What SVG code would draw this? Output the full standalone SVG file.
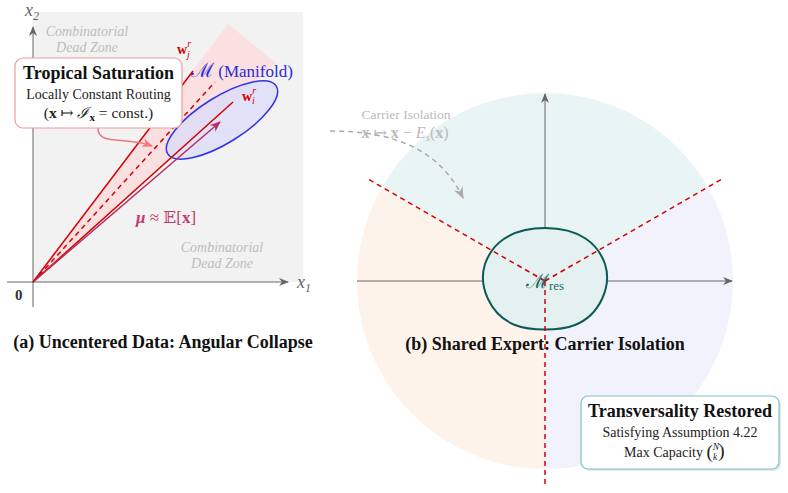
<svg xmlns="http://www.w3.org/2000/svg" width="788" height="493" viewBox="0 0 788 493">
<style>
.serif{font-family:"Liberation Serif","DejaVu Serif",serif}
.math{font-family:"DejaVu Serif","Liberation Serif",serif}
.dead{font-family:"Liberation Serif",serif;font-style:italic;font-size:14px;fill:#bdbdbd;text-anchor:middle}
.cap{font-family:"Liberation Serif",serif;font-weight:bold;font-size:18px;fill:#111;text-anchor:middle}
.axis{stroke:#666;stroke-width:1;fill:none}
.red{stroke:#d40000;stroke-width:1.5;fill:none}
.reddash{stroke:#d40000;stroke-width:1.5;fill:none;stroke-dasharray:5 4}
</style>
<defs>
<marker id="ag" viewBox="0 0 10 8" refX="9" refY="4" markerWidth="10" markerHeight="8" markerUnits="userSpaceOnUse" orient="auto"><path d="M0,0 L10,4 L0,8 L3,4 Z" fill="#666"/></marker>
<marker id="am" viewBox="0 0 10 8" refX="9" refY="4" markerWidth="11" markerHeight="9" markerUnits="userSpaceOnUse" orient="auto"><path d="M0,0 L10,4 L0,8 L3,4 Z" fill="#b52f66"/></marker>
<marker id="ap" viewBox="0 0 10 8" refX="9" refY="4" markerWidth="11" markerHeight="9" markerUnits="userSpaceOnUse" orient="auto"><path d="M0,0 L10,4 L0,8 L3,4 Z" fill="#f07878"/></marker>
<marker id="al" viewBox="0 0 10 8" refX="9" refY="4" markerWidth="12" markerHeight="10" markerUnits="userSpaceOnUse" orient="auto"><path d="M0,0 L10,4 L0,8 L3,4 Z" fill="#aaa"/></marker>
</defs>

<!-- Panel (a) -->
<g id="panel-a-background">
<rect x="33" y="12" width="270" height="270" fill="#f2f2f2"/>
<text class="dead" x="87" y="36">Combinatorial</text>
<text class="dead" x="87" y="52">Dead Zone</text>
<text class="dead" x="222" y="252">Combinatorial</text>
<text class="dead" x="222" y="268">Dead Zone</text>
</g>
<g id="axes-a">
<line class="axis" x1="33" y1="307" x2="33" y2="27" marker-end="url(#ag)"/>
<line class="axis" x1="7" y1="282" x2="288" y2="282" marker-end="url(#ag)"/>
<text class="serif" x="25" y="16" font-size="18" font-style="italic" fill="#666">x<tspan font-size="12" dy="4">2</tspan></text>
<text class="serif" x="297" y="288" font-size="18" font-style="italic" fill="#666">x<tspan font-size="12" dy="4">1</tspan></text>
<text class="serif" x="15" y="300" font-size="15" font-weight="bold" fill="#333">0</text>
</g>
<g id="cone">
<polygon points="33,282 228,24 276,63" fill="#fdd8d8" fill-opacity="0.7"/>
</g>
<g id="manifold">
<ellipse cx="222" cy="120" rx="64" ry="23" transform="rotate(-32 222 120)" fill="#dcdcf8" fill-opacity="0.8" stroke="#3333e6" stroke-width="1.5"/>
<text class="serif" x="191" y="77" font-size="17" fill="#2a2ad8"><tspan class="math" font-size="20">ℳ</tspan> (Manifold)</text>
</g>
<g id="connectors">
<line class="red" x1="33" y1="282" x2="193" y2="71"/>
<line class="reddash" x1="33" y1="282" x2="215" y2="82"/>
<line class="red" x1="33" y1="282" x2="233" y2="102"/>
<line x1="33" y1="282" x2="220" y2="122" stroke="#b52f66" stroke-width="1.5" marker-end="url(#am)"/>
<path d="M98,128 C98,146 125,136 152,146" fill="none" stroke="#f07878" stroke-width="1.5" marker-end="url(#ap)"/>
</g>
<g id="labels-a">
<text class="serif" x="177" y="54" font-size="14" font-weight="bold" fill="#d40000">w<tspan font-size="10" font-style="italic" font-weight="normal" dy="-7">r</tspan><tspan font-size="10" font-style="italic" font-weight="normal" dx="-4" dy="11">j</tspan></text>
<text class="serif" x="242" y="101" font-size="14" font-weight="bold" fill="#d40000">w<tspan font-size="10" font-style="italic" font-weight="normal" dy="-7">r</tspan><tspan font-size="10" font-style="italic" font-weight="normal" dx="-4" dy="10">i</tspan></text>
<text class="serif" x="136" y="223" font-size="17" fill="#c43a6e"><tspan font-weight="bold" font-style="italic">μ</tspan> ≈ <tspan class="math">𝔼</tspan>[<tspan font-weight="bold">x</tspan>]</text>
</g>
<g id="tropical-box">
<rect x="15" y="58" width="167" height="70" rx="8" fill="#fff" stroke="#f29a9a" stroke-width="1.2"/>
<text class="serif" x="98.5" y="79" font-size="18" font-weight="bold" fill="#111" text-anchor="middle">Tropical Saturation</text>
<text class="serif" x="98.5" y="99" font-size="14" fill="#222" text-anchor="middle">Locally Constant Routing</text>
<text class="serif" x="98.5" y="118" font-size="15.5" fill="#222" text-anchor="middle">(<tspan font-weight="bold">x</tspan> ↦ <tspan class="math" font-style="italic">ℐ</tspan><tspan font-size="11" font-weight="bold" dy="3">x</tspan><tspan dy="-3"> = const.)</tspan></text>
</g>
<text class="cap" x="163" y="348">(a) Uncentered Data: Angular Collapse</text>

<!-- Panel (b) -->
<g id="sectors">
<path d="M545,281 L382.2,187 A188,188 0 0 1 707.8,187 Z" fill="#e9f4f4"/>
<path d="M545,281 L707.8,187 A188,188 0 0 1 545,469 Z" fill="#f2f2fc"/>
<path d="M545,281 L545,469 A188,188 0 0 1 382.2,187 Z" fill="#fdf3ea"/>
</g>
<g id="axes-b">
<line class="axis" x1="545" y1="281" x2="545" y2="94" marker-end="url(#ag)"/>
<line class="axis" x1="357" y1="281" x2="732" y2="281" marker-end="url(#ag)"/>
</g>
<g id="carrier-label">
<text class="serif" x="406" y="119" font-size="13.5" fill="#bbb" text-anchor="middle">Carrier Isolation</text>
<text class="serif" x="405" y="138" font-size="16" fill="#bbb" text-anchor="middle"><tspan font-weight="bold">x</tspan> ↦ <tspan font-weight="bold">x</tspan> − <tspan font-style="italic">E</tspan><tspan font-size="11" font-style="italic" dy="3">s</tspan><tspan dy="-3">(</tspan><tspan font-weight="bold">x</tspan>)</text>
</g>
<g id="carrier-arrow">
<path d="M330,131 C395,131 440,150 463,198" fill="none" stroke="#aaa" stroke-width="1.5" stroke-dasharray="5 4" marker-end="url(#al)"/>
</g>
<g id="m-res">
<path d="M545,228 C580,228 598,244 605,264 C612,286 600,315 575,325 C560,331 530,331 515,325 C490,315 478,286 485,264 C492,244 510,228 545,228 Z" fill="#e4f1f0" stroke="#0b5a55" stroke-width="2"/>
</g>
<g id="boundaries">
<line class="reddash" x1="545" y1="281" x2="368" y2="179"/>
<line class="reddash" x1="545" y1="281" x2="722" y2="179"/>
<line class="reddash" x1="545" y1="281" x2="545" y2="486"/>
</g>
<text class="serif" x="526" y="288" font-size="17" fill="#1a6a66"><tspan class="math" font-size="20">ℳ</tspan><tspan font-size="13" dy="2">res</tspan></text>
<text class="cap" x="545" y="350">(b) Shared Expert: Carrier Isolation</text>
<g id="transversality-box">
<rect x="583" y="398" width="198" height="73" rx="7" fill="#e6e6e6"/>
<rect x="581" y="396" width="198" height="73" rx="7" fill="#fff" stroke="#7cc4c4" stroke-width="1.2"/>
<text class="serif" x="680" y="417" font-size="18" font-weight="bold" fill="#111" text-anchor="middle">Transversality Restored</text>
<text class="serif" x="680" y="437" font-size="14" fill="#222" text-anchor="middle">Satisfying Assumption 4.22</text>
<text class="serif" x="624" y="457" font-size="14" fill="#222">Max Capacity <tspan font-size="19" dy="1">(</tspan><tspan font-size="9.5" font-style="italic" dy="-8">N</tspan><tspan font-size="9.5" font-style="italic" dx="-6" dy="10">k</tspan><tspan font-size="19" dx="1" dy="-3">)</tspan></text>
</g>
</svg>
